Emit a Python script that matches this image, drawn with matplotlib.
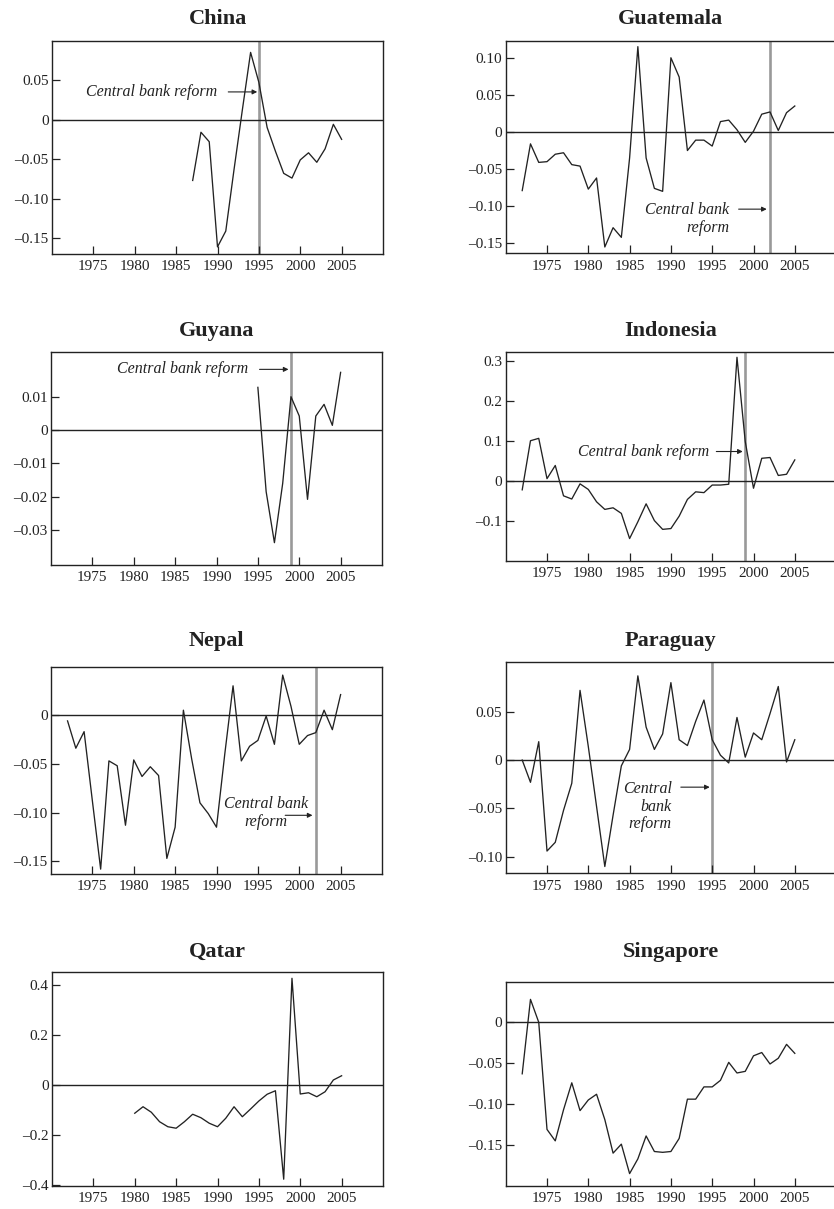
import matplotlib
matplotlib.use("Agg")
import matplotlib.pyplot as plt

# ==========================================
# 1. DATA
# ==========================================
china_years = list(range(1987, 2006))
china_vals = [-0.077, -0.016, -0.028, -0.161, -0.141, -0.063, 0.012, 0.085, 0.047,
              -0.010, -0.040, -0.068, -0.074, -0.051, -0.042, -0.054, -0.037, -0.006, -0.025]

guatemala_years = list(range(1972, 2006))
guatemala_vals = [-0.079, -0.016, -0.041, -0.040, -0.030, -0.028, -0.044, -0.046, -0.077, -0.062,
                  -0.155, -0.129, -0.142, -0.035, 0.115, -0.035, -0.076, -0.080, 0.100, 0.074,
                  -0.025, -0.011, -0.011, -0.019, 0.014, 0.016, 0.003, -0.014, 0.001, 0.024,
                  0.027, 0.002, 0.026, 0.035]

guyana_years = list(range(1995, 2006))
guyana_vals = [0.0128, -0.0185, -0.0338, -0.016, 0.0100, 0.0042, -0.0208, 0.0042, 0.0077, 0.0014, 0.0173]

indonesia_years = list(range(1972, 2006))
indonesia_vals = [-0.023, 0.100, 0.106, 0.005, 0.038, -0.038, -0.046, -0.008, -0.022, -0.053,
                  -0.072, -0.068, -0.082, -0.145, -0.103, -0.058, -0.100, -0.122, -0.120, -0.089,
                  -0.047, -0.028, -0.030, -0.011, -0.011, -0.009, 0.309, 0.098, -0.019, 0.056,
                  0.058, 0.013, 0.016, 0.052]

nepal_years = list(range(1972, 2006))
nepal_vals = [-0.006, -0.034, -0.017, -0.088, -0.158, -0.047, -0.052, -0.113, -0.046, -0.063,
              -0.053, -0.062, -0.147, -0.115, 0.005, -0.045, -0.090, -0.101, -0.115, -0.040,
              0.030, -0.047, -0.032, -0.026, -0.001, -0.030, 0.041, 0.009, -0.030, -0.021,
              -0.018, 0.005, -0.015, 0.021]

paraguay_years = list(range(1972, 2006))
paraguay_vals = [0.000, -0.023, 0.019, -0.094, -0.085, -0.052, -0.024, 0.072, 0.014, -0.048,
                 -0.110, -0.057, -0.006, 0.011, 0.087, 0.034, 0.011, 0.027, 0.080, 0.021,
                 0.015, 0.040, 0.062, 0.021, 0.005, -0.003, 0.044, 0.003, 0.028, 0.021,
                 0.048, 0.076, -0.002, 0.021]

qatar_years = list(range(1980, 2006))
qatar_vals = [-0.113, -0.087, -0.109, -0.147, -0.167, -0.173, -0.147, -0.117, -0.131, -0.153,
              -0.167, -0.133, -0.087, -0.127, -0.096, -0.064, -0.037, -0.023, -0.377, 0.427,
              -0.036, -0.031, -0.047, -0.027, 0.020, 0.037]

singapore_years = list(range(1972, 2006))
singapore_vals = [-0.063, 0.028, 0.000, -0.131, -0.145, -0.107, -0.074, -0.108, -0.095, -0.088,
                  -0.119, -0.160, -0.149, -0.185, -0.167, -0.139, -0.158, -0.159, -0.158, -0.142,
                  -0.094, -0.094, -0.079, -0.079, -0.071, -0.049, -0.062, -0.060, -0.041, -0.037,
                  -0.051, -0.044, -0.027, -0.038]

year_ticks = [1975, 1980, 1985, 1990, 1995, 2000, 2005]

# reform years (None = no line)
reform = {"China": 1995, "Guatemala": 2002, "Guyana": 1999, "Indonesia": 1999,
          "Nepal": 2002, "Paraguay": 1995, "Qatar": None, "Singapore": None}

M = "\u2013"
yticks = {
    "China": ([0.05, 0, -0.05, -0.10, -0.15], ["0.05", "0", M + "0.05", M + "0.10", M + "0.15"]),
    "Guatemala": ([0.10, 0.05, 0, -0.05, -0.10, -0.15],
                  ["0.10", "0.05", "0", M + "0.05", M + "0.10", M + "0.15"]),
    "Guyana": ([0.01, 0, -0.01, -0.02, -0.03], ["0.01", "0", M + "0.01", M + "0.02", M + "0.03"]),
    "Indonesia": ([0.3, 0.2, 0.1, 0, -0.1], ["0.3", "0.2", "0.1", "0", M + "0.1"]),
    "Nepal": ([0, -0.05, -0.10, -0.15], ["0", M + "0.05", M + "0.10", M + "0.15"]),
    "Paraguay": ([0.05, 0, -0.05, -0.10], ["0.05", "0", M + "0.05", M + "0.10"]),
    "Qatar": ([0.4, 0.2, 0, -0.2, -0.4], ["0.4", "0.2", "0", M + "0.2", M + "0.4"]),
    "Singapore": ([0, -0.05, -0.10, -0.15], ["0", M + "0.05", M + "0.10", M + "0.15"]),
}

ylims = {"China": (-0.17, 0.0994), "Guatemala": (-0.1635, 0.123), "Guyana": (-0.0405, 0.0235),
         "Indonesia": (-0.2005, 0.323), "Nepal": (-0.163, 0.0496), "Paraguay": (-0.117, 0.101),
         "Qatar": (-0.403, 0.451), "Singapore": (-0.1998, 0.0496)}

# ==========================================
# 2. LAYOUT (pixel boxes: left, top, width, bottom)
# ==========================================
W, H = 834, 1209
boxes = {
    "China": (52, 41, 331, 254), "Guatemala": (505.7, 40.7, 330.4, 253.3),
    "Guyana": (51, 351.7, 331, 565), "Indonesia": (505.7, 351.7, 330.4, 560.7),
    "Nepal": (51, 666.7, 331, 874), "Paraguay": (505.7, 662.3, 330.4, 873.3),
    "Qatar": (52, 972.3, 331, 1185.7), "Singapore": (505.7, 981.7, 330.4, 1185.7),
}
title_base = {"China": 24, "Guatemala": 24, "Guyana": 336, "Indonesia": 336,
              "Nepal": 646, "Paraguay": 646, "Qatar": 956.7, "Singapore": 956.7}

series = {"China": (china_years, china_vals), "Guatemala": (guatemala_years, guatemala_vals),
          "Guyana": (guyana_years, guyana_vals), "Indonesia": (indonesia_years, indonesia_vals),
          "Nepal": (nepal_years, nepal_vals), "Paraguay": (paraguay_years, paraguay_vals),
          "Qatar": (qatar_years, qatar_vals), "Singapore": (singapore_years, singapore_vals)}

plt.rcParams['font.family'] = ['Liberation Serif', 'DejaVu Serif']
INK = '#222222'

fig = plt.figure(figsize=(W / 100, H / 100), dpi=100)
axes = {}

for name, (x0, top, w, bot) in boxes.items():
    ax = fig.add_axes([x0 / W, 1 - bot / H, w / W, (bot - top) / H])
    axes[name] = ax
    yrs, vals = series[name]
    if reform[name] is not None:
        ax.axvline(reform[name], color='#999999', lw=1.9, zorder=1)
    ax.axhline(0, color=INK, lw=1.0, zorder=2)
    ax.plot(yrs, vals, color=INK, lw=0.95, zorder=3)
    ax.set_xlim(1970, 2010)
    ax.set_ylim(*ylims[name])
    ax.set_xticks(year_ticks)
    ax.set_xticklabels([str(y) for y in year_ticks])
    ax.set_yticks(yticks[name][0])
    ax.set_yticklabels(yticks[name][1])
    ax.tick_params(direction='in', length=5.8, width=0.9, color=INK,
                   labelsize=11, labelcolor=INK, top=False, right=False)
    ax.tick_params(axis='x', pad=4.5)
    ax.tick_params(axis='y', pad=2.5)
    for s in ax.spines.values():
        s.set_color(INK)
        s.set_linewidth(1.0)
    fig.text((x0 + w / 2) / W, 1 - title_base[name] / H, name, ha='center', va='baseline',
             fontsize=16, fontweight='bold', color=INK)

# ==========================================
# 3. ANNOTATIONS
# ==========================================
arrow = dict(arrowstyle='-|>', color=INK, lw=0.8, mutation_scale=7, shrinkA=0, shrinkB=0)
txt = dict(fontsize=11.5, style='italic', color=INK)

ax = axes["China"]
ax.text(1989.9, 0.035, "Central bank reform", ha='right', va='center', **txt)
ax.annotate('', xy=(1994.8, 0.035), xytext=(1991.3, 0.035), arrowprops=arrow)

ax = axes["Guatemala"]
ax.text(1997.1, -0.117, "Central bank\nreform", ha='right', va='center', ma='right',
        linespacing=1.15, **txt)
ax.annotate('', xy=(2001.6, -0.104), xytext=(1998.2, -0.104), arrowprops=arrow)

ax = axes["Guyana"]
ax.text(1993.8, 0.0182, "Central bank reform", ha='right', va='center', **txt)
ax.annotate('', xy=(1998.7, 0.0182), xytext=(1995.2, 0.0182), arrowprops=arrow)

ax = axes["Indonesia"]
ax.text(1994.6, 0.073, "Central bank reform", ha='right', va='center', **txt)
ax.annotate('', xy=(1998.7, 0.073), xytext=(1995.5, 0.073), arrowprops=arrow)

ax = axes["Nepal"]
ax.text(1996.0, -0.1007, "Central bank\nreform", ha='center', va='center', ma='center',
        linespacing=1.15, **txt)
ax.annotate('', xy=(2001.6, -0.1028), xytext=(1998.3, -0.1028), arrowprops=arrow)

ax = axes["Paraguay"]
ax.text(1990.1, -0.048, "Central\nbank\nreform", ha='right', va='center', ma='right',
        linespacing=1.15, **txt)
ax.annotate('', xy=(1994.7, -0.028), xytext=(1991.2, -0.028), arrowprops=arrow)

fig.savefig("out.png", dpi=100)
